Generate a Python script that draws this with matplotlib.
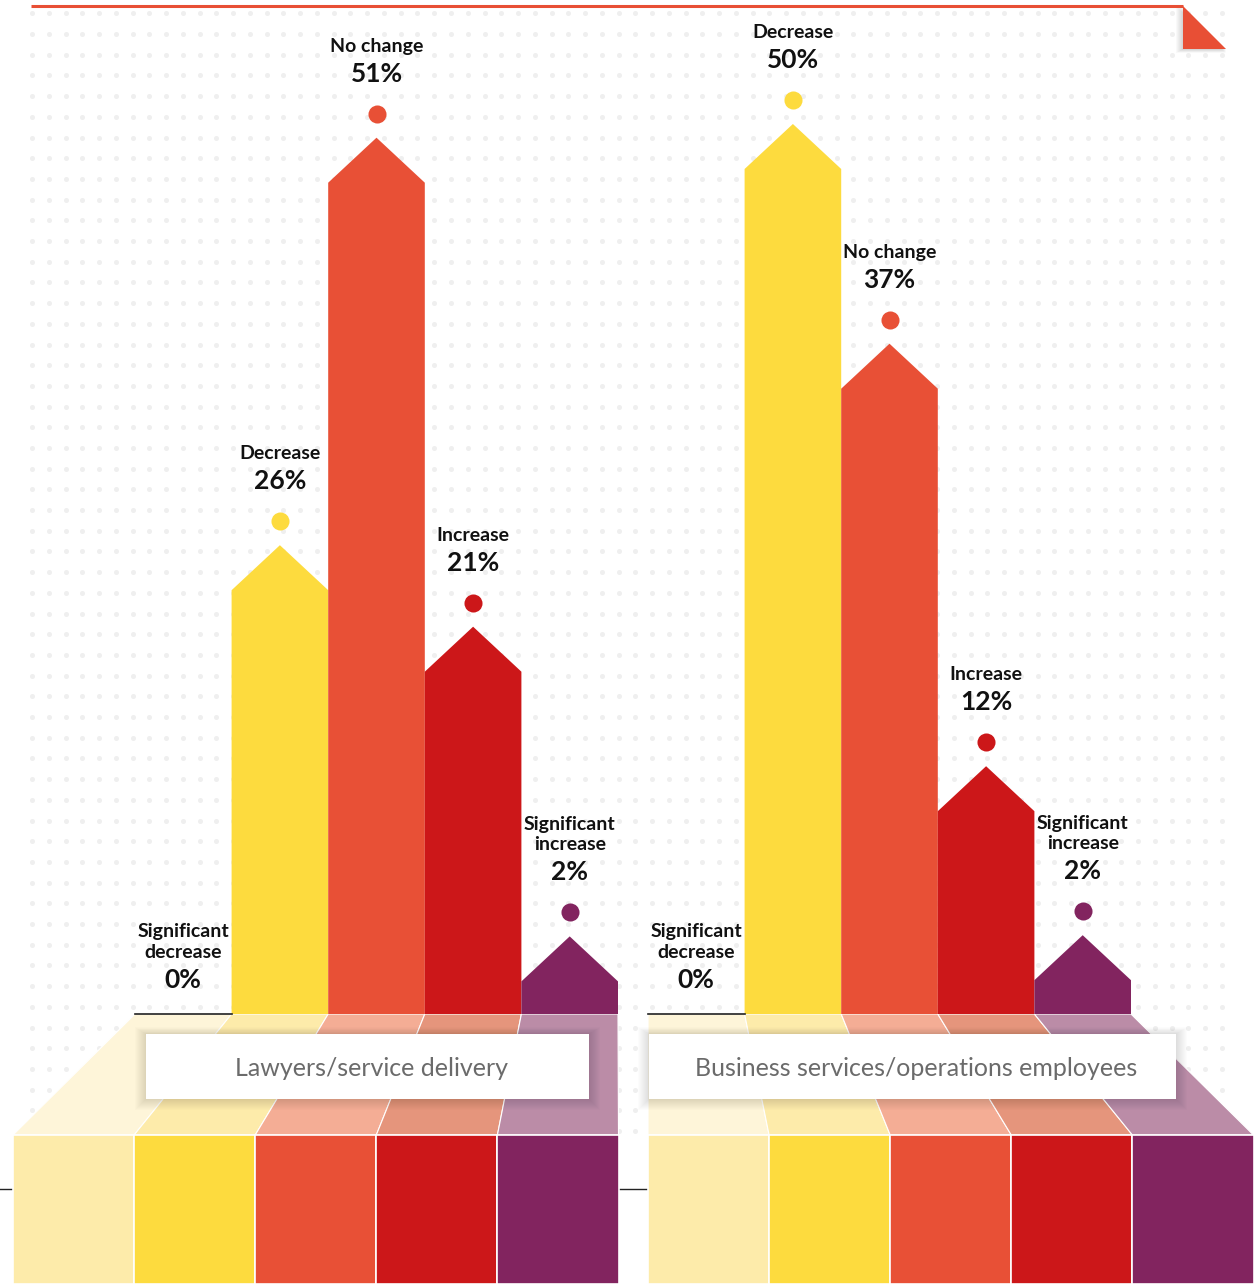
import numpy as np
import matplotlib

matplotlib.use("Agg")
import matplotlib.pyplot as plt
from matplotlib.patches import Polygon, Rectangle
from matplotlib.transforms import offset_copy

plt.rcParams["font.family"] = ["Lato", "DejaVu Sans"]

# data
categories = ["Significant\ndecrease", "Decrease", "No change", "Increase", "Significant\nincrease"]
groups = ["Lawyers/service delivery", "Business services/operations employees"]
lawyers = [0, 26, 51, 21, 2]
business = [0, 50, 37, 12, 2]

bar_colors = ["#FDEBAA", "#FDDB3E", "#E85036", "#CC1719", "#82245F"]
floor_colors = ["#FEF5D9", "#FDEBAA", "#F4AD95", "#E5957C", "#BB8CA7"]

W, H = 1254, 1284
BASE = 1014          # baseline in image pixels
FLOOR_Y = 1135       # where the front faces start
HEAD = 45            # arrow head height, px

fig = plt.figure(figsize=(W / 100, H / 100), dpi=100)
bg = fig.add_axes([0, 0, 1, 1], zorder=0)
bg.set_xlim(0, W)
bg.set_ylim(H, 0)
bg.axis("off")

# dotted background
xs = np.linspace(32, 1222, 72)
ys = 13.3 + 20.7 * np.arange(55)
gx, gy = np.meshgrid(xs, ys)
bg.scatter(gx.ravel(), gy.ravel(), s=13, color="#EFEFEF", lw=0, zorder=0)

# top rule + folded corner
bg.plot([31, 1183], [6, 6], color="#E84F35", lw=2.2, solid_capstyle="butt", zorder=3)
for k in range(1, 8):
    bg.add_patch(Polygon([(1183 - k, 6), (1183 - k, 49 + k * 0.5), (1226, 49 + k * 0.5)],
                         closed=True, color="#000000", alpha=0.025, lw=0, zorder=2))
bg.add_patch(Polygon([(1183, 6), (1183, 49), (1226, 49)], closed=True,
                     color="#E84F35", lw=0, zorder=3))

# black line behind the floor
bg.plot([0, W], [1189, 1189], color="#222222", lw=1, zorder=1)

# group layout: (top x0, bottom x0, box x0, box x1, px per percent)
layout = [(135, 13, 146, 589, 16.3), (648, 648, 649, 1176, 16.9)]
top_w = 96.6
bot_w = 121.1

for gi, (vals, name) in enumerate(zip([lawyers, business], groups)):
    tx0, bx0, b0, b1, ppu = layout[gi]

    # floor: perspective faces + front faces
    for i in range(len(categories)):
        trap = [(tx0 + top_w * i, BASE), (tx0 + top_w * (i + 1), BASE),
                (bx0 + bot_w * (i + 1), FLOOR_Y), (bx0 + bot_w * i, FLOOR_Y)]
        bg.add_patch(Polygon(trap, closed=True, facecolor=floor_colors[i],
                             edgecolor="white", lw=0.8, zorder=2))
        bg.add_patch(Rectangle((bx0 + bot_w * i, FLOOR_Y), bot_w, H - FLOOR_Y,
                               facecolor=bar_colors[i], edgecolor="white", lw=1.2, zorder=2))

    # label box with soft shadow
    for k in range(1, 12):
        bg.add_patch(Rectangle((b0 - k, 1034 - k * 0.6), b1 - b0 + 2 * k, 65 + k * 1.6,
                               facecolor="#000000", alpha=0.012, lw=0, zorder=3))
    bg.add_patch(Rectangle((b0, 1034), b1 - b0, 65, facecolor="white", lw=0, zorder=4))
    bg.text((b0 + b1) / 2 + 4, 1068, name, ha="center", va="center", fontsize=18,
            color="#6B6B6B", zorder=5)

    # bars
    ax = fig.add_axes([tx0 / W, (H - BASE) / H, top_w * 5 / W, BASE / H], zorder=1)
    ax.patch.set_visible(False)
    ax.axis("off")
    ax.set_xlim(0, len(categories))
    ax.set_ylim(0, BASE / ppu)
    head = HEAD / ppu

    for i, (cat, v) in enumerate(zip(categories, vals)):
        if v > 0:
            ax.add_patch(Polygon([(i, 0), (i, v), (i + 0.5, v + head), (i + 1, v), (i + 1, 0)],
                                 closed=True, facecolor=bar_colors[i], lw=0, zorder=2))
            dot_tr = offset_copy(ax.transData, fig=fig, x=0, y=HEAD + 24, units="dots")
            ax.plot(i + 0.5, v, "o", ms=13, color=bar_colors[i], mec="none",
                    transform=dot_tr, clip_on=False, zorder=3)
            pct_off = HEAD + 64
        else:
            ax.plot([i, i + 1], [0, 0], color="#222222", lw=1.2, clip_on=False, zorder=3)
            pct_off = 34
        ax.annotate(f"{v}%", xy=(i + 0.5, v), xytext=(0, pct_off), textcoords="offset pixels",
                    ha="center", va="center", fontsize=19, fontweight="bold",
                    color="#111111", annotation_clip=False)
        ax.annotate(cat, xy=(i + 0.5, v), xytext=(0, pct_off + 19), textcoords="offset pixels",
                    ha="center", va="bottom", fontsize=14, fontweight="bold",
                    color="#111111", linespacing=1.25, annotation_clip=False)

fig.savefig("out.png", dpi=100, facecolor="white")
